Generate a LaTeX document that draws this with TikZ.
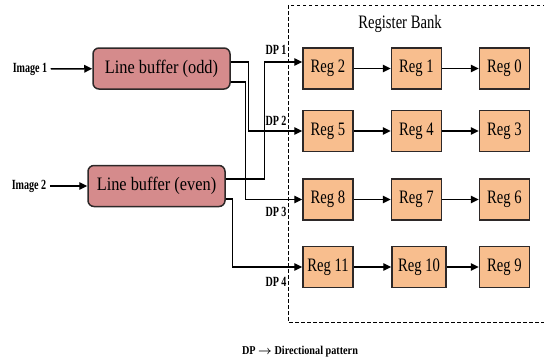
\documentclass[tikz,border=0pt]{standalone}
\usepackage{amsmath}
\usepackage{fontspec}
\setmainfont{Liberation Serif}
\newfontfamily\regfont[FakeStretch=0.77]{Liberation Serif}
\newfontfamily\buffont[FakeStretch=0.86]{Liberation Serif}
\newfontfamily\labfont[FakeStretch=0.72]{Liberation Serif}
\newfontfamily\notefont[FakeStretch=0.85]{Liberation Serif}
\usetikzlibrary{arrows.meta}

\definecolor{bufpink}{RGB}{213,139,140}
\definecolor{regpeach}{RGB}{248,190,142}
\definecolor{edgegray}{RGB}{45,40,40}

\begin{document}
\begin{tikzpicture}[
    x=1pt, y=-1pt,
    buffer/.style={draw=edgegray, line width=1.5pt, fill=bufpink, rounded corners=6pt,
        minimum width=137pt, minimum height=41pt, font=\buffont\fontsize{19}{20}\selectfont},
    regbox/.style={draw=edgegray, line width=1.5pt, fill=regpeach,
        minimum width=50pt, minimum height=41pt, font=\regfont\fontsize{19}{20}\selectfont},
    inlabel/.style={font=\labfont\fontsize{14}{15}\selectfont\bfseries},
    dplabel/.style={font=\labfont\fontsize{14}{15}\selectfont\bfseries, inner sep=1pt},
    conn/.style={line width=1.4pt, -{Triangle[length=8pt,width=7.5pt]}}
]
\useasboundingbox (0,0) rectangle (544,360);

% register bank frame
\draw[line width=0.8pt, dash pattern=on 3.5pt off 2.5pt] (288,5) rectangle (550,322);
\node[font=\regfont\fontsize{19}{20}\selectfont] (bank) at (400,24) {Register Bank};

% inputs and line buffers
\node[inlabel] (img1) at (30,69) {Image 1};
\node[inlabel] (img2) at (29,186) {Image 2};
\node[buffer] (odd) at (161.5,68.5) {Line buffer (odd)};
\node[buffer] (even) at (156.5,186) {Line buffer (even)};

% registers
\node[regbox] (reg2) at (328,68.5) {Reg 2};
\node[regbox] (reg1) at (416.5,68.5) {Reg 1};
\node[regbox] (reg0) at (504.5,68.5) {Reg 0};
\node[regbox] (reg5) at (328,131) {Reg 5};
\node[regbox] (reg4) at (416.5,131) {Reg 4};
\node[regbox] (reg3) at (504.5,131) {Reg 3};
\node[regbox] (reg8) at (328,199.5) {Reg 8};
\node[regbox] (reg7) at (416.5,199.5) {Reg 7};
\node[regbox] (reg6) at (504.5,199.5) {Reg 6};
\node[regbox] (reg11) at (328,267) {Reg 11};
\node[regbox, minimum width=54pt] (reg10) at (419,267) {Reg 10};
\node[regbox] (reg9) at (504.5,267) {Reg 9};

% directional patterns
\node[dplabel] (dp1) at (276,50) {DP 1};
\node[dplabel] (dp2) at (276,121) {DP 2};
\node[dplabel] (dp3) at (276,212) {DP 3};
\node[dplabel] (dp4) at (276,282) {DP 4};

\draw[conn] (img1) -- (odd);
\draw[conn] (img2) -- (even);

\draw[conn] ([yshift=6.5pt]odd.east) -- ++(18,0) |- (reg5.west);
\draw[conn] ([yshift=-13.5pt]odd.east) -- ++(15,0) |- (reg8.west);
\draw[conn] ([yshift=7pt]even.east) -- ++(39,0) |- ([yshift=6.5pt]reg2.west);
\draw[conn] ([yshift=-13pt]even.east) -- ++(7,0) |- (reg11.west);

\draw[conn] (reg2) -- (reg1);
\draw[conn] (reg1) -- (reg0);
\draw[conn] (reg5) -- (reg4);
\draw[conn] (reg4) -- (reg3);
\draw[conn] (reg8) -- (reg7);
\draw[conn] (reg7) -- (reg6);
\draw[conn] (reg11) -- (reg10);
\draw[conn] (reg10) -- (reg9);

\node[font=\notefont\fontsize{12}{13}\selectfont\bfseries] (note) at (300,352) {DP $\boldsymbol{\rightarrow}$ Directional pattern};
\end{tikzpicture}
\end{document}
